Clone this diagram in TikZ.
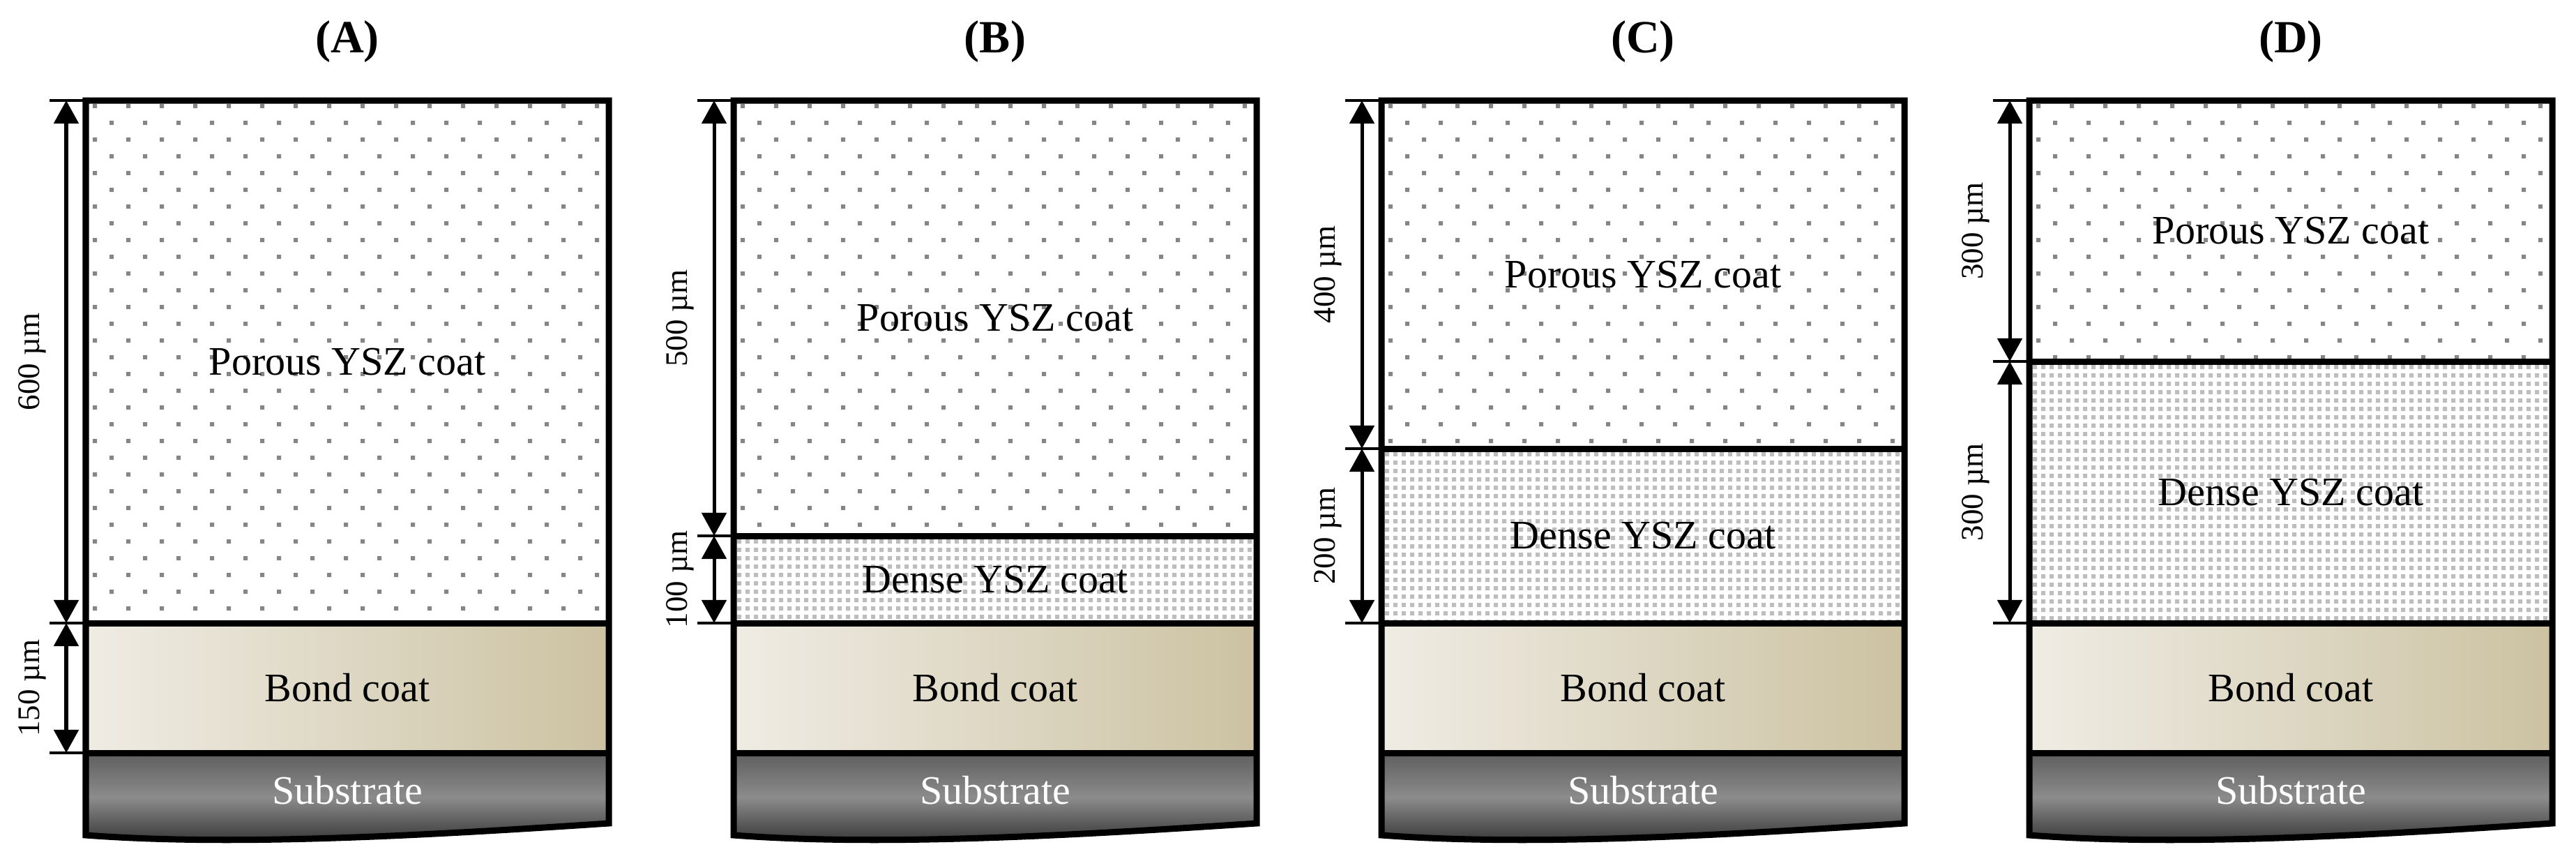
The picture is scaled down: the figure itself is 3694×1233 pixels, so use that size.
\documentclass[tikz,border=0pt]{standalone}
\usepackage{fontspec}
\setmainfont{Liberation Serif}
\usetikzlibrary{arrows.meta}
\definecolor{dotA}{HTML}{858585}
\definecolor{dotB}{HTML}{BDBDBD}
\definecolor{bondL}{HTML}{EFECE4}
\definecolor{bondR}{HTML}{CCC2A2}
\definecolor{subA}{HTML}{5E5E5E}
\definecolor{subB}{HTML}{8C8C8C}
\definecolor{subC}{HTML}{5A5A5A}
\definecolor{subD}{HTML}{383838}
\pgfdeclareverticalshading{subshade}{100bp}{color(0bp)=(subD); color(27bp)=(subD); color(37bp)=(subC); color(51bp)=(subB); color(75bp)=(subA); color(100bp)=(subA)}
\begin{document}
\begin{tikzpicture}[x=0.01cm,y=-0.01cm,
  border/.style={line width=0.09cm},
  dimline/.style={line width=0.05cm,{Triangle[length=0.33cm,width=0.35cm]}-{Triangle[length=0.33cm,width=0.35cm]}},
  ticks/.style={line width=0.04cm},
  layertext/.style={font=\fontsize{16.5}{18}\selectfont, inner sep=0pt},
  subtext/.style={layertext, text=white},
  dimtext/.style={font=\fontsize{12.8}{14}\selectfont, rotate=90, inner sep=0pt},
  titletext/.style={font=\fontsize{18.8}{20}\selectfont\bfseries, inner sep=0pt}]
\useasboundingbox (0,0) rectangle (3694,1233);
\foreach \nm/\lx/\py/\tp/\td in {A/123/893/600/0, B/1052/768/500/100, C/1981/643/400/200, D/2910/518/300/300} {
  \pgfmathsetmacro\rx{\lx+750}
  \pgfmathsetmacro\cx{\lx+375}
  % porous dots
  \pgfmathtruncatemacro\np{(\py-144)/24}
  \begin{scope}
    \clip (\lx,144) rectangle (\rx,\py);
    \foreach \j in {0,...,\np} {
      \pgfmathsetmacro\yy{152+24*\j}
      \pgfmathsetmacro\xo{\lx+13+24*mod(\j,2)}
      \fill[dotA] foreach \i in {0,...,15} { (\xo+48*\i-3,\yy-3) rectangle ++(6,6) };
    }
  \end{scope}
  % dense dots
  \ifnum\td>0
    \pgfmathtruncatemacro\nd{(893-\py)/12}
    \begin{scope}
      \clip (\lx,\py) rectangle (\rx,893);
      \foreach \j in {0,...,\nd} {
        \pgfmathsetmacro\yy{\py+8+12*\j}
        \fill[dotB] foreach \i in {0,...,62} { (\lx+8+12*\i-3,\yy-3) rectangle ++(6,6) };
      }
    \end{scope}
  \fi
  % bond coat and substrate
  \shade[left color=bondL, right color=bondR] (\lx,893) rectangle (\rx,1079);
  \shade[shading=subshade] (\lx,1079) -- (\rx,1079) -- (\rx,1180) .. controls (\lx+450,1200) and (\lx+200,1212) .. (\lx,1197) -- cycle;
  % outlines
  \draw[border] (\lx,144) -- (\rx,144) -- (\rx,1180) .. controls (\lx+450,1200) and (\lx+200,1212) .. (\lx,1197) -- cycle;
  \draw[border] (\lx,\py) -- (\rx,\py);
  \draw[border] (\lx,893) -- (\rx,893);
  \draw[border] (\lx,1079) -- (\rx,1079);
  % texts
  \node[titletext, anchor=base] (\nm-title) at (\cx,75) {(\nm)};
  \node[layertext] (\nm-porous) at (\cx,{(144+\py)/2}) {Porous YSZ coat};
  \ifnum\td>0
    \node[layertext] (\nm-dense) at (\cx,{(\py+893)/2}) {Dense YSZ coat};
  \fi
  \node[layertext] (\nm-bond) at (\cx,986) {Bond coat};
  \node[subtext] (\nm-sub) at (\cx,1133) {Substrate};
  % dimensions
  \coordinate (\nm-t0) at (\lx-28,144);
  \coordinate (\nm-t1) at (\lx-28,\py);
  \coordinate (\nm-t2) at (\lx-28,893);
  \coordinate (\nm-t3) at (\lx-28,1079);
  \draw[ticks] (\lx-52,144) -- (\lx,144);
  \draw[ticks] (\lx-52,\py) -- (\lx,\py);
  \draw[ticks] (\lx-52,893) -- (\lx,893);
  \draw[dimline] (\nm-t0) -- (\nm-t1);
  \node[dimtext] (\nm-dp) at (\lx-77,{(144+\py)/2}) {\tp~µm};
  \ifnum\td>0
    \draw[dimline] (\nm-t1) -- (\nm-t2);
    \node[dimtext] (\nm-dd) at (\lx-77,{(\py+893)/2}) {\td~µm};
  \else
    \draw[ticks] (\lx-52,1079) -- (\lx,1079);
    \draw[dimline] (\nm-t2) -- (\nm-t3);
    \node[dimtext] (\nm-db) at (\lx-77,986) {150~µm};
  \fi
}
\end{tikzpicture}
\end{document}
